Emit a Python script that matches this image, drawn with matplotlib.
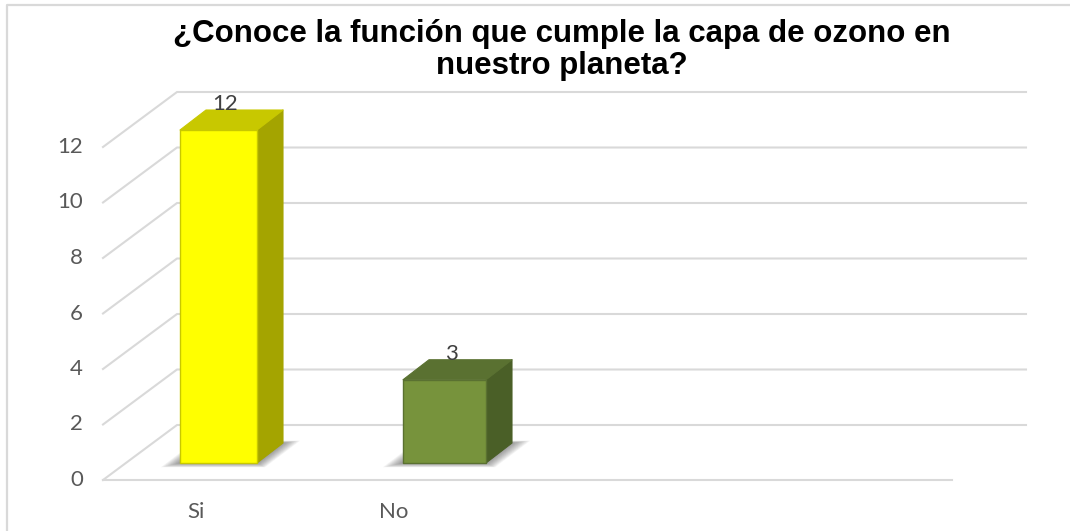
import numpy as np
import matplotlib
matplotlib.use("Agg")
import matplotlib.pyplot as plt
from matplotlib.patches import Polygon

# Datos de la encuesta
categorias = ["Si", "No"]
valores = [12, 3]
ticks = [0, 2, 4, 6, 8, 10, 12]
titulo = "¿Conoce la función que cumple la capa de ozono en\nnuestro planeta?"

# Colores de cada barra: frente, tapa, lateral
caras = [
    ("#FFFF00", "#C8C800", "#A4A400"),
    ("#77933C", "#5A7131", "#4A5F27"),
]

# Geometria del grafico en pixeles
W, H = 1070, 531
Y0 = 480.0          # linea del cero (frente)
UNIT = 27.75        # pixeles por unidad
FX0, FX1 = 103, 952 # piso frontal
DX, DY = 74, -55    # profundidad del piso
GRID = "#D9D9D9"

fig = plt.figure(figsize=(W / 100, H / 100), dpi=100)
ax = fig.add_axes([0, 0, 1, 1])
ax.set_xlim(0, W)
ax.set_ylim(H, 0)
ax.axis("off")

def ypix(v):
    return Y0 - v * UNIT

# marco del area
ax.plot([7, 7, W], [H, 5, 5], color=GRID, lw=1.6, solid_capstyle="butt")

# paredes: lineas de cuadricula
for t in ticks:
    yf = ypix(t)
    yb = yf + DY
    ax.plot([FX0, FX0 + DX, FX1 + DX], [yf, yb, yb], color=GRID, lw=1.5, zorder=1)
    ax.text(83, yf, str(t), ha="right", va="center", fontsize=16,
            color="#595959", family="Lato")
ax.plot([FX0, FX1], [Y0, Y0], color=GRID, lw=1.5, zorder=1)

# barras 3D
bar_x = [180, 403]
sep_lbl = 198
for i, (cat, v) in enumerate(zip(categorias, valores)):
    w = 77 + 6 * i
    x0 = bar_x[i]
    x1 = x0 + w
    yb = Y0 - 17
    yt = yb - v * UNIT
    sx, sy = 26, -20
    front, top, side = caras[i]

    # sombra difusa sobre el piso
    foot = np.array([[x0, yb], [x1, yb], [x1 + sx, yb + sy], [x0 + sx, yb + sy]])
    c = foot.mean(axis=0) + np.array([3, -3])
    for k in range(12):
        s = 1.0 + 0.02 * k
        pts = (foot - c) * np.array([s + 0.012 * k, s + 0.01 * k]) + c
        ax.add_patch(Polygon(pts, closed=True, fc="#404040", ec="none",
                             alpha=0.06, zorder=2))

    ax.add_patch(Polygon([[x1, yb], [x1 + sx, yb + sy], [x1 + sx, yt + sy], [x1, yt]],
                         closed=True, fc=side, ec=side, lw=0.8, zorder=3, joinstyle="round"))
    ax.add_patch(Polygon([[x0, yt], [x1, yt], [x1 + sx, yt + sy], [x0 + sx, yt + sy]],
                         closed=True, fc=top, ec=top, lw=0.8, zorder=3, joinstyle="round"))
    ax.add_patch(Polygon([[x0, yb], [x1, yb], [x1, yt], [x0, yt]],
                         closed=True, fc=front, ec=top, lw=1.0, zorder=4, joinstyle="round"))

    # etiqueta de valor
    ax.text(x0 + w / 2 + 6.5, yt + sy - 6, str(v), ha="center", va="center",
            fontsize=16, color="#404040", family="Lato", zorder=5)
    # etiqueta de categoria
    ax.text(FX0 - 6 + sep_lbl * (i + 0.5), 512, cat, ha="center", va="center",
            fontsize=16, color="#595959", family="Lato")

ax.text(562, 50, titulo, ha="center", va="center", fontsize=22.5, fontweight="bold",
        family="Liberation Sans", linespacing=1.06, color="black")

fig.savefig("out.png", dpi=100)
